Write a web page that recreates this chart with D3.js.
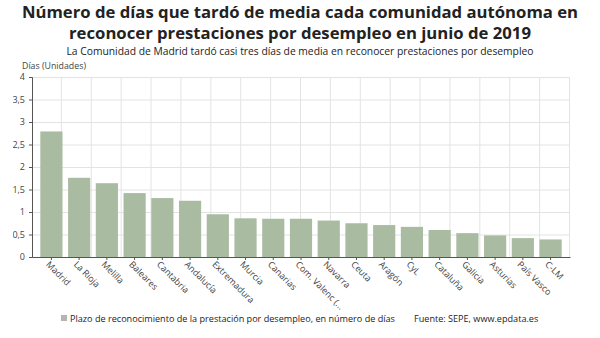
<!DOCTYPE html>
<html>
<head>
<meta charset="utf-8">
<script src="https://cdn.jsdelivr.net/npm/d3@7"></script>
<style>
  body { margin: 0; background: #fff; }
  svg { display: block; font-family: "Open Sans", sans-serif; }
</style>
</head>
<body>
<svg id="chart" width="600" height="338"></svg>
<script>
let comunidades = ['Madrid', 'La Rioja', 'Melilla', 'Baleares', 'Cantabria', 'Andalucía',
	'Extremadura', 'Murcia', 'Canarias', 'Com. Valenc (...', 'Navarra', 'Ceuta', 'Aragón',
	'CyL', 'Cataluña', 'Galicia', 'Asturias', 'País Vasco', 'C-LM'];
let dias = [2.79, 1.76, 1.64, 1.42, 1.31, 1.25, 0.95, 0.86, 0.85, 0.85, 0.81, 0.75, 0.71,
	0.67, 0.60, 0.53, 0.48, 0.42, 0.39];
let yTicks = [0, 0.5, 1, 1.5, 2, 2.5, 3, 3.5, 4];

let svg = d3.select('#chart');

let mLeft = 32, mRight = 570, mTop = 77, mBottom = 257;

let x = d3.scaleBand()
	.domain(comunidades)
	.range([mLeft, mRight])
	.paddingInner(0.2)
	.paddingOuter(0.3);

let y = d3.scaleLinear()
	.domain([0, 4])
	.range([mBottom, mTop]);

// vertical grid runs on its own even spacing
let xGrid = d3.scaleLinear().domain([0, 18]).range([mLeft, mRight]);

let fmt = d => d3.format('.1~f')(d).replace('.', ',');

// titles
svg.append('text')
	.attr('x', 300).attr('y', 18)
	.attr('text-anchor', 'middle')
	.attr('font-size', 16.7).attr('font-weight', 'bold').attr('fill', '#222')
	.text('Número de días que tardó de media cada comunidad autónoma en');
svg.append('text')
	.attr('x', 300).attr('y', 39)
	.attr('text-anchor', 'middle')
	.attr('font-size', 16.7).attr('font-weight', 'bold').attr('fill', '#222')
	.text('reconocer prestaciones por desempleo en junio de 2019');
svg.append('text')
	.attr('x', 300).attr('y', 54.5)
	.attr('text-anchor', 'middle')
	.attr('font-size', 10.3).attr('fill', '#222')
	.text('La Comunidad de Madrid tardó casi tres días de media en reconocer prestaciones por desempleo');

svg.append('text')
	.attr('x', 22).attr('y', 69)
	.attr('font-size', 8.8).attr('fill', '#444')
	.text('Días (Unidades)');

// grid
svg.append('g')
	.selectAll('line')
	.data(yTicks.slice(1))
	.join('line')
	.attr('x1', mLeft).attr('x2', mRight)
	.attr('y1', d => y(d) + 0.5).attr('y2', d => y(d) + 0.5)
	.attr('stroke', '#e3e3e3');

svg.append('g')
	.selectAll('line')
	.data(d3.range(1, 19))
	.join('line')
	.attr('x1', d => xGrid(d) - 0.5).attr('x2', d => xGrid(d) - 0.5)
	.attr('y1', mTop).attr('y2', mBottom)
	.attr('stroke', '#e3e3e3');

// bars
svg.append('g')
	.selectAll('rect')
	.data(comunidades)
	.join('rect')
	.attr('x', d => x(d))
	.attr('width', x.bandwidth())
	.attr('y', (d, i) => y(dias[i]))
	.attr('height', (d, i) => y(0) - y(dias[i]))
	.attr('fill', '#a9bca2');

// y axis, labels cut off at the left edge of the label column
svg.append('defs').append('clipPath').attr('id', 'yclip')
	.append('rect').attr('x', 13 - mLeft).attr('y', 72).attr('width', 40).attr('height', 200);

let yAxis = svg.append('g')
	.attr('transform', `translate(${mLeft},0)`)
	.attr('clip-path', 'url(#yclip)')
	.call(d3.axisLeft(y).tickValues(yTicks).tickFormat(fmt).tickSize(3).tickPadding(4));
yAxis.select('.domain').attr('stroke', '#555');
yAxis.selectAll('.tick line').attr('stroke', '#555');
yAxis.selectAll('text')
	.attr('font-size', 9).attr('fill', '#444')
	.attr('font-family', '"Open Sans", sans-serif');

// x axis
let xAxis = svg.append('g')
	.attr('transform', `translate(0,${mBottom})`)
	.call(d3.axisBottom(x).tickSize(3).tickSizeOuter(0));
xAxis.select('.domain').attr('stroke', '#555');
xAxis.selectAll('.tick line').attr('stroke', '#555');
xAxis.selectAll('text')
	.attr('font-size', 9).attr('fill', '#444')
	.attr('font-family', '"Open Sans", sans-serif')
	.attr('text-anchor', 'start')
	.attr('y', 0)
	.attr('dy', null)
	.attr('transform', 'translate(-6,8) rotate(45)');

// legend
svg.append('rect')
	.attr('x', 61).attr('y', 315).attr('width', 6).attr('height', 6)
	.attr('fill', '#b4b4b4');
svg.append('text')
	.attr('x', 70).attr('y', 321.5)
	.attr('font-size', 9.1).attr('fill', '#222')
	.text('Plazo de reconocimiento de la prestación por desempleo, en número de días');
svg.append('text')
	.attr('x', 414).attr('y', 321.5)
	.attr('font-size', 9.1).attr('fill', '#222')
	.text('Fuente: SEPE, www.epdata.es');
</script>
</body>
</html>
